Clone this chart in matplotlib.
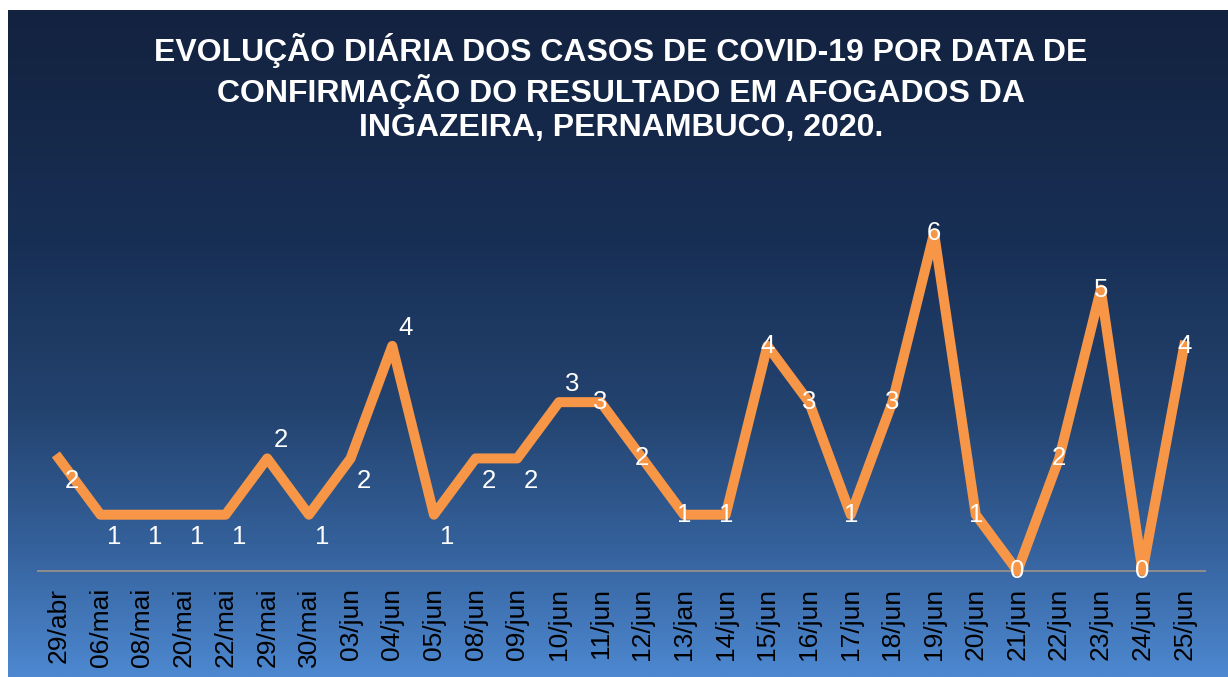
import numpy as np
import matplotlib.pyplot as plt
from matplotlib.colors import LinearSegmentedColormap

plt.rcParams['font.family'] = ['Liberation Sans', 'DejaVu Sans']

# dados
datas = ['29/abr', '06/mai', '08/mai', '20/mai', '22/mai', '29/mai', '30/mai',
         '03/jun', '04/jun', '05/jun', '08/jun', '09/jun', '10/jun', '11/jun',
         '12/jun', '13/jan', '14/jun', '15/jun', '16/jun', '17/jun', '18/jun',
         '19/jun', '20/jun', '21/jun', '22/jun', '23/jun', '24/jun', '25/jun']
casos = [2, 1, 1, 1, 1, 2, 1, 2, 4, 1, 2, 2, 3, 3, 2, 1, 1, 4, 3, 1, 3, 6, 1, 0, 2, 5, 0, 4]
# posição dos rótulos de dados (como no Excel)
pos_rotulo = ['b', 'b', 'b', 'b', 'b', 'a', 'b', 'b', 'a', 'b', 'b', 'b', 'a'] + ['c'] * 15

titulo = ('EVOLUÇÃO DIÁRIA DOS CASOS DE COVID-19 POR DATA DE\n'
          'CONFIRMAÇÃO DO RESULTADO EM AFOGADOS DA\n'
          'INGAZEIRA, PERNAMBUCO, 2020.')

W, H = 1228, 677
fig = plt.figure(figsize=(W / 100, H / 100), dpi=100)
fig.patch.set_facecolor('white')

# fundo degradê
bg = fig.add_axes([8 / W, 0, 1 - 8 / W, 1 - 10 / H])
cmap = LinearSegmentedColormap.from_list('fundo', [
    (0.0, '#13223f'), (0.35, '#182f55'), (0.6, '#23436f'),
    (0.8, '#34609a'), (1.0, '#4d88d0')])
grad = np.linspace(0, 1, 256).reshape(-1, 1)
bg.imshow(grad, aspect='auto', cmap=cmap, extent=[0, 1, 0, 1], origin='upper')
bg.set_axis_off()

ax = fig.add_axes([38 / W, 1 - 571 / H, (1205 - 38) / W, (571 - 177) / H])
ax.patch.set_alpha(0)
x = np.arange(len(datas))
ax.plot(x, casos, color='#f79646', lw=7.2, solid_joinstyle='round', clip_on=False, zorder=3)

for i, v in enumerate(casos):
    p = pos_rotulo[i]
    if p == 'b':
        off = (9.5, -16)
    elif p == 'a':
        off = (9.5, 13)
    else:
        off = (0, 0)
    ax.annotate(str(v), (x[i], v), xytext=off, textcoords='offset points',
                ha='center', va='center', color='white', fontsize=18.5, zorder=4)

ax.set_xlim(-0.5, len(datas) - 0.5)
ax.set_ylim(0, 7)
ax.set_xticks(x)
ax.set_xticklabels(datas, rotation=90, fontsize=19, color='black')
ax.tick_params(axis='x', length=0, pad=12)
ax.set_yticks([])
for s in ['top', 'right', 'left']:
    ax.spines[s].set_visible(False)
ax.spines['bottom'].set_color('#8c8c8c')
ax.spines['bottom'].set_linewidth(1.5)

fig.text(621 / W, 1 - 33 / H, titulo, ha='center', va='top', color='white',
         fontsize=23, fontweight='bold', linespacing=1.2)

plt.savefig('out.png', dpi=100)
